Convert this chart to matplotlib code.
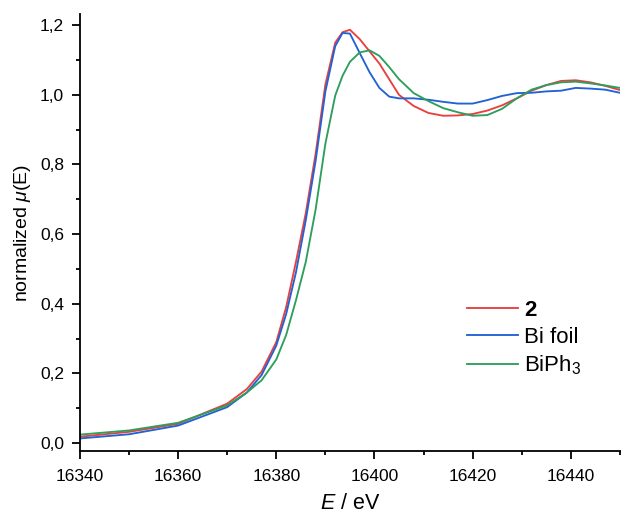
import numpy as np
import matplotlib
matplotlib.use("Agg")
import matplotlib.pyplot as plt
from matplotlib.ticker import MultipleLocator, FuncFormatter

plt.rcParams['font.family'] = ['Liberation Sans', 'DejaVu Sans']
plt.rcParams['mathtext.fontset'] = 'custom'
plt.rcParams['mathtext.rm'] = 'Liberation Sans'
plt.rcParams['mathtext.it'] = 'Liberation Sans:italic'
plt.rcParams['mathtext.bf'] = 'Liberation Sans:bold'

# energy grid (eV)
energy = [16340, 16350, 16360, 16370, 16374, 16377, 16380, 16382, 16384, 16386,
          16388, 16390, 16392, 16393.5, 16395, 16397, 16399, 16401, 16403, 16405,
          16408, 16411, 16414, 16417, 16420, 16423, 16426, 16429, 16432, 16435,
          16438, 16441, 16444, 16447, 16450]

# sample 2
mu_sample = [0.018, 0.032, 0.055, 0.113, 0.155, 0.205, 0.29, 0.39, 0.52, 0.66,
             0.83, 1.03, 1.15, 1.18, 1.187, 1.16, 1.125, 1.09, 1.045, 1.0,
             0.968, 0.948, 0.94, 0.941, 0.945, 0.955, 0.97, 0.99, 1.012, 1.028,
             1.04, 1.042, 1.036, 1.026, 1.014]

# Bi foil
mu_foil = [0.013, 0.025, 0.05, 0.103, 0.145, 0.195, 0.28, 0.37, 0.49, 0.64,
           0.81, 1.01, 1.14, 1.178, 1.176, 1.12, 1.065, 1.02, 0.995, 0.99,
           0.99, 0.986, 0.98, 0.975, 0.975, 0.985, 0.997, 1.005, 1.006, 1.01,
           1.012, 1.02, 1.018, 1.015, 1.006]

# BiPh3
mu_biph3 = [0.024, 0.036, 0.058, 0.108, 0.145, 0.18, 0.24, 0.31, 0.41, 0.52,
            0.67, 0.86, 0.998, 1.055, 1.095, 1.122, 1.128, 1.112, 1.08, 1.045,
            1.005, 0.982, 0.962, 0.95, 0.94, 0.942, 0.96, 0.99, 1.015, 1.028,
            1.036, 1.038, 1.033, 1.027, 1.02]

fig = plt.figure(figsize=(6.22, 5.17), dpi=100)
ax = fig.add_axes([0.1286, 0.1277, 0.868, 0.845])

ax.plot(energy, mu_sample, color='#e8403f', lw=1.35, label='2')
ax.plot(energy, mu_foil, color='#2362d4', lw=1.35, label='Bi foil')
ax.plot(energy, mu_biph3, color='#2e9e5c', lw=1.35, label='BiPh$_3$')

ax.set_xlim(16340, 16450)
ax.set_ylim(-0.023, 1.232)

ax.xaxis.set_major_locator(MultipleLocator(20))
ax.xaxis.set_minor_locator(MultipleLocator(10))
ax.yaxis.set_major_locator(MultipleLocator(0.2))
ax.yaxis.set_minor_locator(MultipleLocator(0.1))
ax.yaxis.set_major_formatter(FuncFormatter(lambda v, p: f"{v:.1f}".replace('.', ',')))

for side in ['top', 'right']:
    ax.spines[side].set_visible(False)
for side in ['left', 'bottom']:
    ax.spines[side].set_linewidth(1.3)

ax.tick_params(which='major', direction='out', length=6, width=1.3, labelsize=12.5, pad=5.5)
ax.tick_params(axis='x', which='major', pad=7)
ax.tick_params(which='minor', direction='out', length=3, width=1.3)

ax.set_xlabel('$E$ / eV', fontsize=15.5, labelpad=6.5)
ax.set_ylabel('normalized $\\mu$(E)', fontsize=14, labelpad=5)

leg = ax.legend(loc='upper left', bbox_to_anchor=(0.717, 0.345), frameon=False,
                fontsize=16, handlelength=2.3, handletextpad=0.25,
                labelspacing=0.25, borderaxespad=0, borderpad=0)
leg.get_texts()[0].set_fontweight('bold')

fig.savefig('out.png', dpi=100)
